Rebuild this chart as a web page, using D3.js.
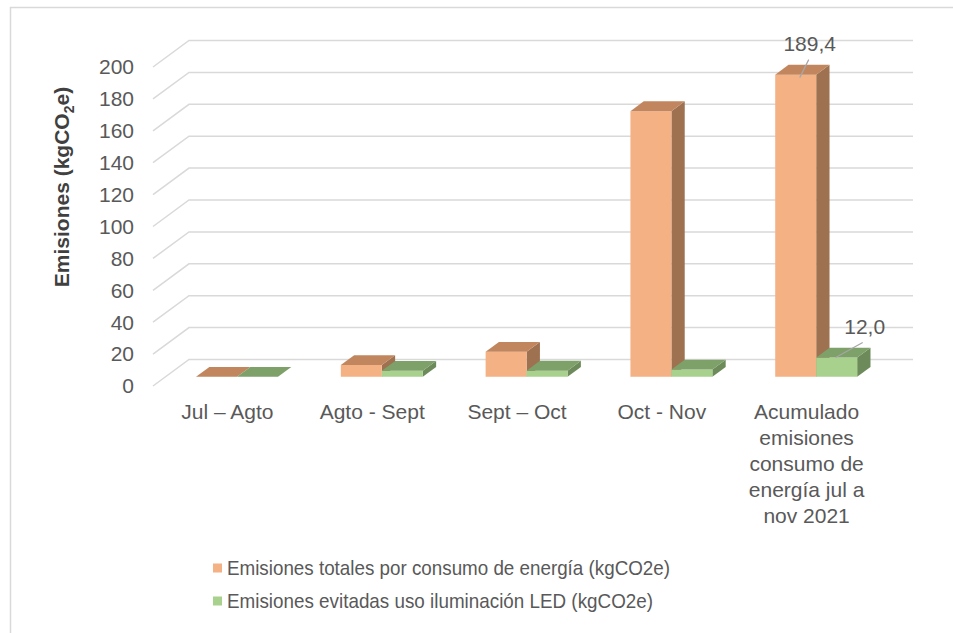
<!DOCTYPE html>
<html>
<head>
<meta charset="utf-8">
<script src="https://cdn.jsdelivr.net/npm/d3@7"></script>
<style>
  html, body { margin: 0; padding: 0; background: #fff; }
  svg { display: block; font-family: "Liberation Sans", Arial, sans-serif; }
</style>
</head>
<body>
<svg id="chart" width="953" height="633"></svg>
<script>
// Categories (each label may span several lines)
const categories = ["Jul – Agto", "Agto - Sept", "Sept – Oct", "Oct - Nov", "Acumulado"];
const categoryLabels = [
  ["Jul – Agto"],
  ["Agto - Sept"],
  ["Sept – Oct"],
  ["Oct - Nov"],
  ["Acumulado", "emisiones", "consumo de", "energía jul a", "nov 2021"]
];
const seriesNames = [
  "Emisiones totales por consumo de energía (kgCO2e)",
  "Emisiones evitadas uso iluminación LED (kgCO2e)"
];
const totalEmissions = [0, 7.3, 15.6, 166.5, 189.4];
const avoidedEmissions = [0, 3.7, 3.8, 4.5, 12.0];
const yTicks = [0, 20, 40, 60, 80, 100, 120, 140, 160, 180, 200];
// Only the cumulative column carries value labels
const labelled = {"Acumulado": [ "189,4", "12,0" ]};

const seriesValues = [totalEmissions, avoidedEmissions];
const palette = [
  { front: "#F4B183", top: "#C2865E", side: "#9E7150" },
  { front: "#A9D18E", top: "#7EA069", side: "#6D8B5A" }
];

const svg = d3.select("#chart");
const textColor = "#595959";
const gridColor = "#d9d9d9";
const fontSize = 21;

// Outer frame (left and top edges)
svg.append("path")
  .attr("d", "M10.5,640 V7.5 H960")
  .attr("fill", "none")
  .attr("stroke", "#d9d9d9")
  .attr("stroke-width", 1.5);

// 3D projection: front plane scales plus a depth vector
const y = d3.scaleLinear().domain([0, 200]).range([386, 67]);
const x0 = d3.scaleBand().domain(categories).range([153, 877]).padding(0);
const depth = { dx: 36, dy: -26.5 };
const pairFrac = 0.566;
const x1 = d3.scaleBand().domain([0, 1]).range([0, x0.bandwidth() * pairFrac]);
const d0 = 0.35, d1 = 0.72;   // bar depth range within the floor
const wallRight = 913;

function proj(xf, v, d) {
  return [xf + d * depth.dx, y(v) + d * depth.dy];
}

// Gridlines: side wall diagonal + back wall horizontal
const grid = svg.append("g");
yTicks.forEach(v => {
  const a = proj(x0.range()[0], v, 0);
  const b = proj(x0.range()[0], v, 1);
  grid.append("path")
    .attr("d", `M${a[0]},${a[1]} L${b[0]},${b[1]} H${wallRight}`)
    .attr("fill", "none")
    .attr("stroke", gridColor)
    .attr("stroke-width", 1.5);
});

// Y tick labels
svg.append("g").selectAll("text")
  .data(yTicks)
  .join("text")
  .attr("x", 134)
  .attr("y", d => y(d))
  .attr("dy", "0.35em")
  .attr("text-anchor", "end")
  .attr("fill", textColor)
  .attr("font-size", fontSize)
  .text(d => d);

// Y axis title with subscript
const title = svg.append("text")
  .attr("transform", "translate(69,187) rotate(-90)")
  .attr("text-anchor", "middle")
  .attr("fill", "#404040")
  .attr("font-size", 21)
  .attr("font-weight", "bold");
title.append("tspan").text("Emisiones (kgCO");
title.append("tspan").attr("font-size", 14).attr("dy", 5).text("2");
title.append("tspan").attr("dy", -5).text("e)");

// Bars
const bars = svg.append("g");
const pairOffset = (x0.bandwidth() - x0.bandwidth() * pairFrac) / 2 - 1;
categories.forEach((c, ci) => {
  seriesValues.forEach((vals, si) => {
    const v = vals[ci];
    const xl = x0(c) + pairOffset + x1(si);
    const xr = xl + x1.bandwidth();
    const ftl = proj(xl, v, d0), ftr = proj(xr, v, d0);
    const fbl = proj(xl, 0, d0), fbr = proj(xr, 0, d0);
    const btl = proj(xl, v, d1), btr = proj(xr, v, d1);
    const bbr = proj(xr, 0, d1);
    const col = palette[si];
    // side face
    bars.append("path")
      .attr("d", `M${ftr} L${btr} L${bbr} L${fbr} Z`)
      .attr("fill", col.side);
    // front face
    bars.append("path")
      .attr("d", `M${ftl} L${ftr} L${fbr} L${fbl} Z`)
      .attr("fill", col.front);
    // top face
    bars.append("path")
      .attr("d", `M${ftl} L${ftr} L${btr} L${btl} Z`)
      .attr("fill", col.top);
  });
});

// Value labels with leader lines
const labelG = svg.append("g");
Object.entries(labelled).forEach(([c, texts]) => {
  seriesValues.forEach((vals, si) => {
    const v = vals[categories.indexOf(c)];
    const xl = x0(c) + pairOffset + x1(si);
    const xc = xl + x1.bandwidth() / 2;
    const anchor = proj(xc, v, d0);
    let lx, ly, ex, ey, tx, ty;
    if (si === 0) {
      ex = anchor[0] + 4; ey = anchor[1] + 3;
      lx = ex + 9; ly = ey - 18;
      tx = lx + 1; ty = ly - 16;
    } else {
      ex = anchor[0] - 1; ey = anchor[1];
      lx = ex + 27; ly = ey - 15;
      tx = lx + 2; ty = ly - 16;
    }
    labelG.append("text")
      .attr("x", tx).attr("y", ty)
      .attr("dy", "0.35em")
      .attr("text-anchor", "middle")
      .attr("fill", textColor).attr("font-size", fontSize)
      .text(texts[si]);
    labelG.append("line")
      .attr("x1", lx).attr("y1", ly)
      .attr("x2", ex).attr("y2", ey)
      .attr("stroke", "#a6a6a6").attr("stroke-width", 1.2);
  });
});

// Category labels
const catG = svg.append("g");
categories.forEach((c, ci) => {
  const cx = x0(c) + x0.bandwidth() / 2 + 2;
  const t = catG.append("text")
    .attr("text-anchor", "middle")
    .attr("fill", textColor)
    .attr("font-size", fontSize);
  categoryLabels[ci].forEach((line, li) => {
    t.append("tspan")
      .attr("x", cx)
      .attr("y", 419 + li * 26)
      .text(line);
  });
});

// Legend
const legend = svg.append("g");
const legendWidths = [443, 426];
seriesNames.forEach((name, si) => {
  const ly = 568 + si * 33;
  legend.append("rect")
    .attr("x", 213).attr("y", ly - 4.5)
    .attr("width", 9).attr("height", 9)
    .attr("fill", palette[si].front);
  legend.append("text")
    .attr("x", 227).attr("y", ly)
    .attr("dy", "0.35em")
    .attr("fill", textColor)
    .attr("font-size", fontSize)
    .attr("textLength", legendWidths[si])
    .attr("lengthAdjust", "spacingAndGlyphs")
    .text(name);
});
</script>
</body>
</html>
